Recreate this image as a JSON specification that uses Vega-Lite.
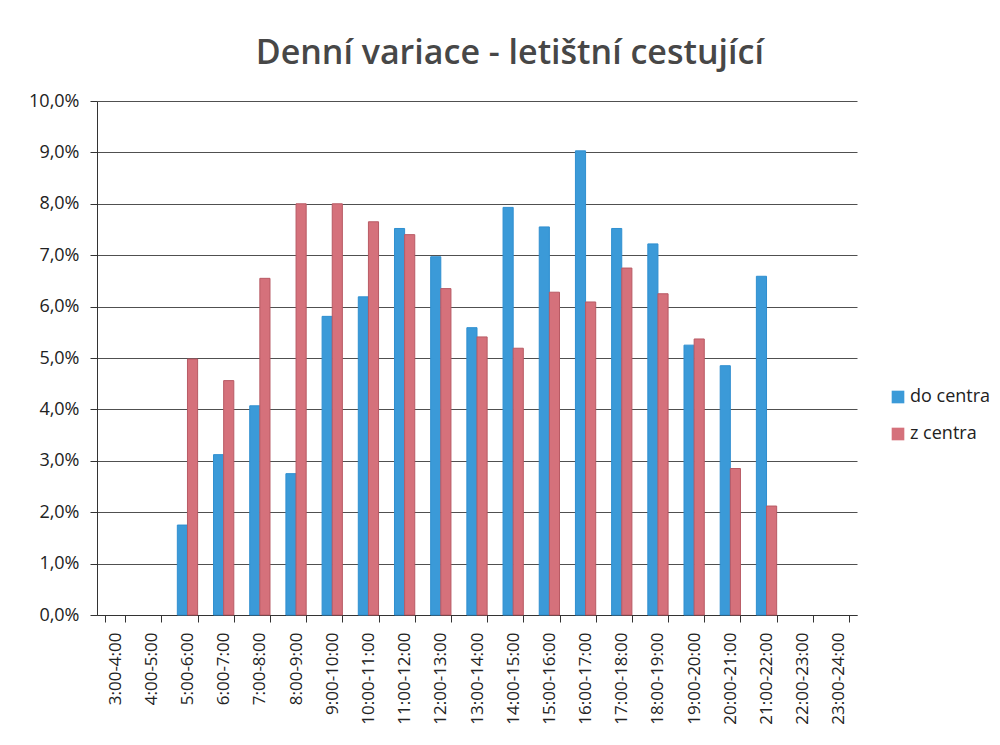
{
  "$schema": "https://vega.github.io/schema/vega-lite/v6.json",
  "width": 760,
  "height": 514,
  "autosize": {"type": "pad"},
  "padding": {"left": 28, "top": 37, "right": 5, "bottom": 5},
  "background": "white",
  "title": {
    "text": "Denní variace - letištní cestující",
    "font": "Open Sans",
    "fontSize": 34,
    "fontWeight": 600,
    "color": "#474747",
    "anchor": "middle",
    "frame": "bounds",
    "offset": 21
  },
  "config": {
    "view": {"stroke": null},
    "axis": {"labelFont": "Open Sans", "labelColor": "#222222"},
    "legend": {"labelFont": "Open Sans"}
  },
  "data": {
    "values": [
      {"hodina": "5:00-6:00", "smer": "do centra", "podil": 1.75},
      {"hodina": "5:00-6:00", "smer": "z centra", "podil": 4.98},
      {"hodina": "6:00-7:00", "smer": "do centra", "podil": 3.12},
      {"hodina": "6:00-7:00", "smer": "z centra", "podil": 4.56},
      {"hodina": "7:00-8:00", "smer": "do centra", "podil": 4.07},
      {"hodina": "7:00-8:00", "smer": "z centra", "podil": 6.55},
      {"hodina": "8:00-9:00", "smer": "do centra", "podil": 2.75},
      {"hodina": "8:00-9:00", "smer": "z centra", "podil": 8.0},
      {"hodina": "9:00-10:00", "smer": "do centra", "podil": 5.81},
      {"hodina": "9:00-10:00", "smer": "z centra", "podil": 8.0},
      {"hodina": "10:00-11:00", "smer": "do centra", "podil": 6.19},
      {"hodina": "10:00-11:00", "smer": "z centra", "podil": 7.65},
      {"hodina": "11:00-12:00", "smer": "do centra", "podil": 7.52},
      {"hodina": "11:00-12:00", "smer": "z centra", "podil": 7.4},
      {"hodina": "12:00-13:00", "smer": "do centra", "podil": 6.97},
      {"hodina": "12:00-13:00", "smer": "z centra", "podil": 6.35},
      {"hodina": "13:00-14:00", "smer": "do centra", "podil": 5.59},
      {"hodina": "13:00-14:00", "smer": "z centra", "podil": 5.41},
      {"hodina": "14:00-15:00", "smer": "do centra", "podil": 7.93},
      {"hodina": "14:00-15:00", "smer": "z centra", "podil": 5.19},
      {"hodina": "15:00-16:00", "smer": "do centra", "podil": 7.55},
      {"hodina": "15:00-16:00", "smer": "z centra", "podil": 6.28},
      {"hodina": "16:00-17:00", "smer": "do centra", "podil": 9.03},
      {"hodina": "16:00-17:00", "smer": "z centra", "podil": 6.09},
      {"hodina": "17:00-18:00", "smer": "do centra", "podil": 7.52},
      {"hodina": "17:00-18:00", "smer": "z centra", "podil": 6.75},
      {"hodina": "18:00-19:00", "smer": "do centra", "podil": 7.22},
      {"hodina": "18:00-19:00", "smer": "z centra", "podil": 6.25},
      {"hodina": "19:00-20:00", "smer": "do centra", "podil": 5.25},
      {"hodina": "19:00-20:00", "smer": "z centra", "podil": 5.37},
      {"hodina": "20:00-21:00", "smer": "do centra", "podil": 4.85},
      {"hodina": "20:00-21:00", "smer": "z centra", "podil": 2.85},
      {"hodina": "21:00-22:00", "smer": "do centra", "podil": 6.59},
      {"hodina": "21:00-22:00", "smer": "z centra", "podil": 2.12}
    ]
  },
  "mark": {"type": "bar", "strokeWidth": 1},
  "encoding": {
    "x": {
      "field": "hodina",
      "type": "nominal",
      "sort": null,
      "scale": {
        "domain": ["3:00-4:00", "4:00-5:00", "5:00-6:00", "6:00-7:00", "7:00-8:00", "8:00-9:00", "9:00-10:00", "10:00-11:00", "11:00-12:00", "12:00-13:00", "13:00-14:00", "14:00-15:00", "15:00-16:00", "16:00-17:00", "17:00-18:00", "18:00-19:00", "19:00-20:00", "20:00-21:00", "21:00-22:00", "22:00-23:00", "23:00-24:00"],
        "paddingInner": 0.44,
        "paddingOuter": 0.22
      },
      "axis": {
        "title": null,
        "labelAngle": -90,
        "labelFontSize": 17,
        "labelPadding": 10,
        "tickBand": "extent",
        "tickSize": 7,
        "tickColor": "#333333",
        "domainColor": "#333333",
        "labelAlign": "right",
        "labelBaseline": "middle"
      }
    },
    "xOffset": {
      "field": "smer",
      "type": "nominal",
      "sort": ["do centra", "z centra"],
      "scale": {"paddingInner": 0, "paddingOuter": 0}
    },
    "y": {
      "field": "podil",
      "type": "quantitative",
      "scale": {"domain": [0, 10], "nice": false},
      "axis": {
        "title": null,
        "values": [0, 1, 2, 3, 4, 5, 6, 7, 8, 9, 10],
        "labelExpr": "replace(format(datum.value, '.1f'), '.', ',') + '%'",
        "labelFontSize": 18,
        "labelPadding": 11,
        "tickSize": 7,
        "tickColor": "#333333",
        "domainColor": "#333333",
        "grid": true,
        "gridColor": "#505050",
        "gridOpacity": 1,
        "gridWidth": 1
      }
    },
    "color": {
      "field": "smer",
      "type": "nominal",
      "scale": {"domain": ["do centra", "z centra"], "range": ["#3b9ad8", "#d5717b"]},
      "legend": {
        "title": null,
        "orient": "none",
        "legendX": 792,
        "legendY": 287,
        "symbolType": "square",
        "symbolSize": 160,
        "symbolStrokeWidth": 0,
        "labelFontSize": 18,
        "labelColor": "#222222",
        "rowPadding": 19,
        "labelOffset": 3
      }
    },
    "stroke": {
      "field": "smer",
      "type": "nominal",
      "scale": {"domain": ["do centra", "z centra"], "range": ["#2f8fd0", "#b85a64"]},
      "legend": null
    }
  }
}
